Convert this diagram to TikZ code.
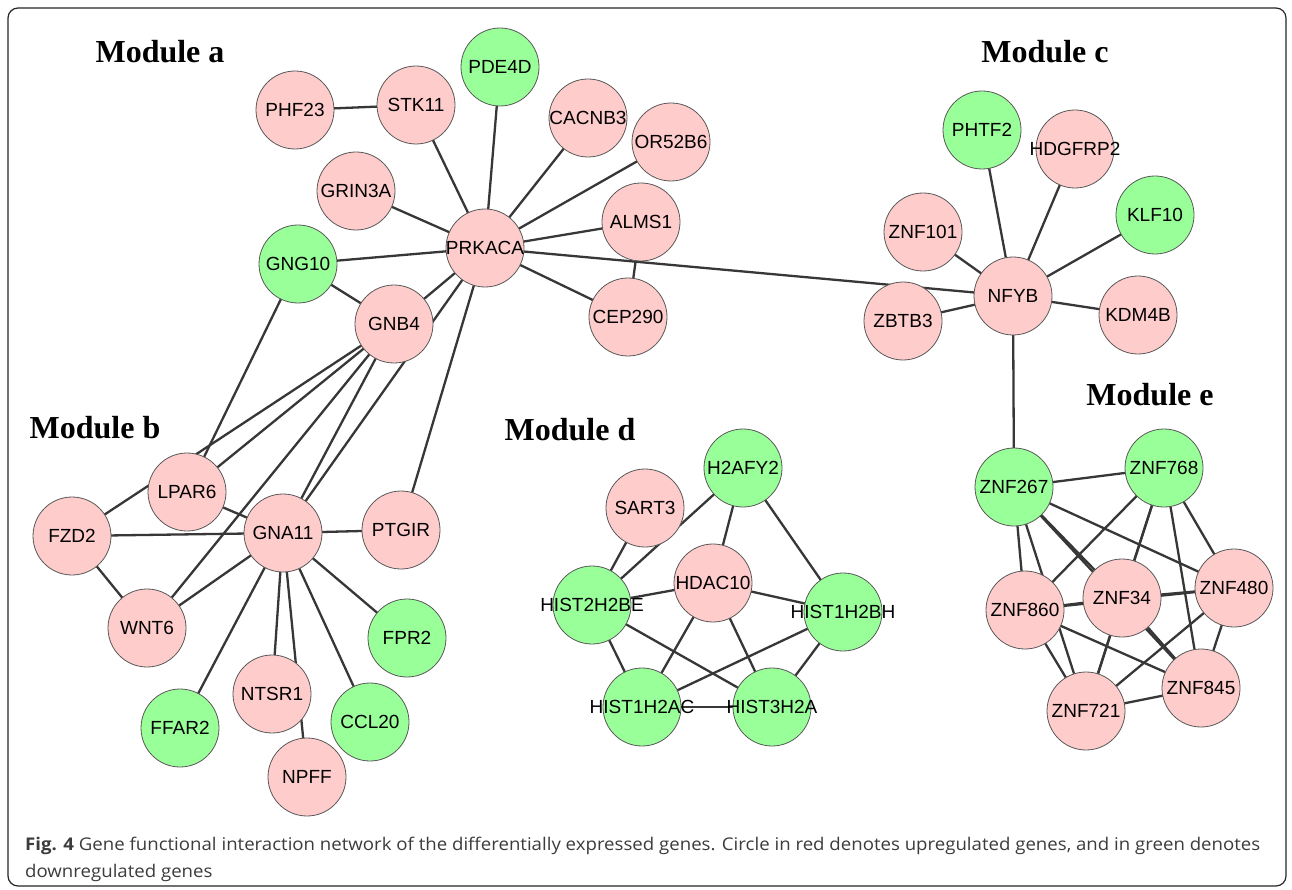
\documentclass[tikz,border=0pt]{standalone}
\usepackage{fontspec}
\setmainfont{Liberation Sans}
\newfontfamily\modfont{Liberation Serif}
\newfontfamily\capfont{Open Sans}
\usetikzlibrary{backgrounds}
\definecolor{upc}{RGB}{255,204,204}
\definecolor{downc}{RGB}{153,255,153}
\definecolor{edgec}{RGB}{55,55,55}
\definecolor{capc}{RGB}{60,60,60}
\newsavebox\capbox
\newcommand\gl[1]{\makebox[0pt]{#1}}
\begin{document}
\sbox\capbox{\capfont\fontsize{17.5}{17.5}\selectfont\color{capc}\textbf{Fig. 4} Gene functional interaction network of the differentially expressed genes. Circle in red denotes upregulated genes, and in green denotes}%
\pgfmathsetmacro\capsc{1235/\the\wd\capbox}%
\begin{tikzpicture}[x=1pt,y=-1pt,
  gene/.style={circle, minimum size=78pt, inner sep=0pt, draw=black!65, line width=0.8pt, font=\fontsize{19}{19}\selectfont},
  upg/.style={gene, fill=upc},
  dng/.style={gene, fill=downc},
  edge/.style={draw=edgec, line width=2.3pt},
  modlabel/.style={font=\modfont\bfseries\fontsize{32}{32}\selectfont, inner sep=0pt}]
\useasboundingbox (0,0) rectangle (1292,890);

% module labels
\node[modlabel] (ma) at (160,52) {Module a};
\node[modlabel] (mb) at (95,428) {Module b};
\node[modlabel] (mc) at (1045,52) {Module c};
\node[modlabel] (md) at (570,430) {Module d};
\node[modlabel] (me) at (1150,395) {Module e};

% module a / b
\node[dng] (PDE4D) at (500,67) {\gl{PDE4D}};
\node[upg] (PHF23) at (295,110) {\gl{PHF23}};
\node[upg] (STK11) at (416,105) {\gl{STK11}};
\node[upg] (CACNB3) at (588,118) {\gl{CACNB3}};
\node[upg] (OR52B6) at (671,142) {\gl{OR52B6}};
\node[upg] (GRIN3A) at (356,191) {\gl{GRIN3A}};
\node[upg] (ALMS1) at (641,222) {\gl{ALMS1}};
\node[upg] (PRKACA) at (485,248) {\gl{PRKACA}};
\node[dng] (GNG10) at (298,264) {\gl{GNG10}};
\node[upg] (GNB4) at (394,324) {\gl{GNB4}};
\node[upg] (CEP290) at (628,317) {\gl{CEP290}};
\node[upg] (LPAR6) at (187,492) {\gl{LPAR6}};
\node[upg] (FZD2) at (72,536) {\gl{FZD2}};
\node[upg] (GNA11) at (283,533) {\gl{GNA11}};
\node[upg] (PTGIR) at (401,530) {\gl{PTGIR}};
\node[upg] (WNT6) at (147,628) {\gl{WNT6}};
\node[dng] (FPR2) at (407,638) {\gl{FPR2}};
\node[upg] (NTSR1) at (272,694) {\gl{NTSR1}};
\node[dng] (FFAR2) at (180,728) {\gl{FFAR2}};
\node[dng] (CCL20) at (370,722) {\gl{CCL20}};
\node[upg] (NPFF) at (307,777) {\gl{NPFF}};

% module c
\node[dng] (PHTF2) at (982,130) {\gl{PHTF2}};
\node[upg] (HDGFRP2) at (1075,149) {\gl{HDGFRP2}};
\node[dng] (KLF10) at (1155,215) {\gl{KLF10}};
\node[upg] (ZNF101) at (923,232) {\gl{ZNF101}};
\node[upg] (NFYB) at (1013,296) {\gl{NFYB}};
\node[upg] (ZBTB3) at (903,321) {\gl{ZBTB3}};
\node[upg] (KDM4B) at (1138,315) {\gl{KDM4B}};

% module d
\node[dng] (H2AFY2) at (743,468) {\gl{H2AFY2}};
\node[upg] (SART3) at (645,508) {\gl{SART3}};
\node[upg] (HDAC10) at (713,583) {\gl{HDAC10}};
\node[dng] (HIST2H2BE) at (592,605) {\gl{HIST2H2BE}};
\node[dng] (HIST1H2BH) at (843,612) {\gl{HIST1H2BH}};
\node[dng] (HIST1H2AC) at (642,707) {\gl{HIST1H2AC}};
\node[dng] (HIST3H2A) at (772,707) {\gl{HIST3H2A}};

% module e
\node[dng] (ZNF267) at (1014,487) {\gl{ZNF267}};
\node[dng] (ZNF768) at (1164,468) {\gl{ZNF768}};
\node[upg] (ZNF860) at (1025,610) {\gl{ZNF860}};
\node[upg] (ZNF34) at (1122,598) {\gl{ZNF34}};
\node[upg] (ZNF480) at (1234,588) {\gl{ZNF480}};
\node[upg] (ZNF721) at (1086,711) {\gl{ZNF721}};
\node[upg] (ZNF845) at (1201,688) {\gl{ZNF845}};

\begin{scope}[on background layer]
\fill[white] (0,0) rectangle (1292,890);
\foreach \a/\b in {PHF23/STK11, STK11/PRKACA, PDE4D/PRKACA, CACNB3/PRKACA, OR52B6/PRKACA,
  GRIN3A/PRKACA, ALMS1/PRKACA, ALMS1/CEP290, CEP290/PRKACA, GNG10/PRKACA, GNG10/GNB4,
  GNB4/PRKACA, PRKACA/GNA11, PRKACA/PTGIR, PRKACA/NFYB,
  GNG10/LPAR6, GNB4/LPAR6, FZD2/GNB4, GNB4/WNT6, GNB4/GNA11,
  LPAR6/GNA11, FZD2/GNA11, FZD2/WNT6, WNT6/GNA11, GNA11/PTGIR, GNA11/FPR2,
  GNA11/CCL20, GNA11/NTSR1, GNA11/NPFF, GNA11/FFAR2,
  PHTF2/NFYB, HDGFRP2/NFYB, KLF10/NFYB, ZNF101/NFYB, ZBTB3/NFYB, KDM4B/NFYB, NFYB/ZNF267,
  SART3/HIST2H2BE, H2AFY2/HIST2H2BE, H2AFY2/HDAC10, H2AFY2/HIST1H2BH,
  HDAC10/HIST2H2BE, HDAC10/HIST1H2BH, HDAC10/HIST1H2AC, HDAC10/HIST3H2A,
  HIST2H2BE/HIST1H2AC, HIST2H2BE/HIST3H2A, HIST1H2BH/HIST1H2AC, HIST1H2BH/HIST3H2A,
  HIST1H2AC/HIST3H2A,
  ZNF267/ZNF768, ZNF267/ZNF860, ZNF267/ZNF34, ZNF267/ZNF480, ZNF267/ZNF721, ZNF267/ZNF845,
  ZNF768/ZNF860, ZNF768/ZNF34, ZNF768/ZNF480, ZNF768/ZNF721, ZNF768/ZNF845,
  ZNF860/ZNF34, ZNF860/ZNF480, ZNF860/ZNF721, ZNF860/ZNF845,
  ZNF34/ZNF480, ZNF34/ZNF721, ZNF34/ZNF845,
  ZNF480/ZNF721, ZNF480/ZNF845, ZNF721/ZNF845}
  \draw[edge] (\a.center) -- (\b.center);
\end{scope}

% frame
\draw[line width=1.2pt, draw=black!85, rounded corners=10pt] (8,8) rectangle (1286,886);

% caption
\node[anchor=base west, inner sep=0pt] (cap1) at (25,850) {\scalebox{\capsc}[1]{\usebox\capbox}};
\node[anchor=base west, inner sep=0pt] (cap2) at (25,877) {\scalebox{\capsc}[1]{\capfont\fontsize{17.5}{17.5}\selectfont\color{capc}downregulated genes}};
\end{tikzpicture}
\end{document}
